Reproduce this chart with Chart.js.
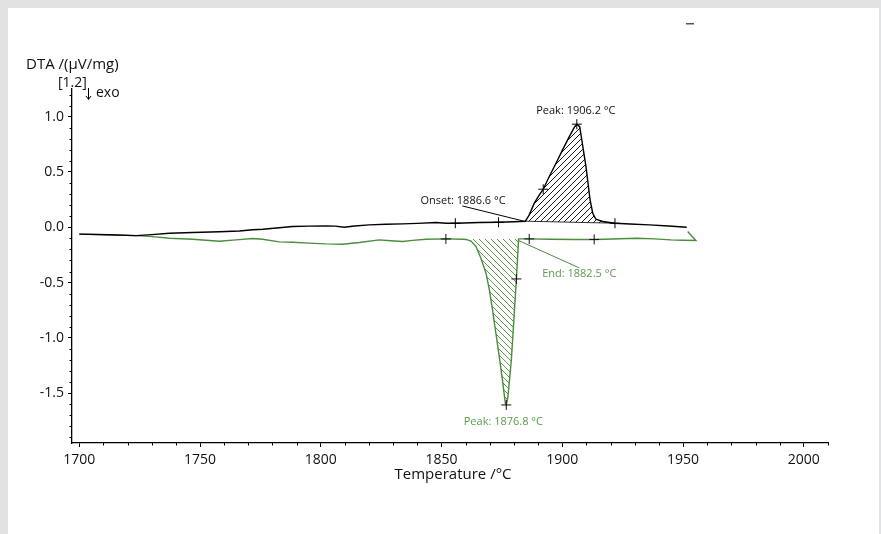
<!DOCTYPE html>
<html><head><meta charset="utf-8">
<script src="https://cdn.jsdelivr.net/npm/chart.js@4"></script>
<style>html,body{margin:0;padding:0;background:#e1e2e3;}#wrap{width:881px;height:534px;position:relative;}</style>
</head><body><div id="wrap"><canvas id="c" width="881" height="534"></canvas></div>
<script>
// ---- data ----
const blackTemp = [1700,1712,1723.5,1730,1737.3,1747,1758,1766.3,1771.8,1776,1782.8,1788.3,1795,1802.2,1806,1809.7,1814,1820,1827,1833.9,1840,1847.7,1851.9,1856,1865.6,1873.6,1880,1884.7,1886.3,1888.4,1890.5,1892.1,1894.6,1897.4,1900.1,1902.9,1905.0,1906.0,1907.2,1909.8,1911.5,1912.6,1913.9,1916.7,1921.8,1928,1936,1944,1951.5];
const blackDta  = [-0.062,-0.068,-0.075,-0.066,-0.054,-0.047,-0.04,-0.033,-0.022,-0.018,-0.004,0.007,0.01,0.013,0.01,0.0,0.012,0.022,0.027,0.031,0.035,0.043,0.037,0.037,0.043,0.046,0.05,0.055,0.112,0.218,0.293,0.344,0.459,0.579,0.70,0.82,0.905,0.932,0.91,0.549,0.248,0.127,0.073,0.052,0.037,0.03,0.022,0.012,0.0];
const greenTemp = [1700,1712,1723.5,1730.4,1737.3,1747,1758,1764.9,1771.8,1775.9,1782.8,1788.3,1795,1802.2,1809,1815.9,1824.2,1829,1833.9,1838,1843.6,1851.8,1858.7,1860.1,1862.2,1864.3,1866.3,1868.4,1869.8,1871.1,1872.5,1873.9,1875.3,1876.4,1876.8,1877.5,1878.9,1880.2,1881.0,1881.9,1886.3,1895,1905,1913.2,1917.4,1924,1931.1,1938,1944.9,1950,1955.3,1951.9];
const greenDta  = [-0.062,-0.068,-0.075,-0.084,-0.099,-0.108,-0.126,-0.114,-0.102,-0.108,-0.132,-0.135,-0.143,-0.15,-0.153,-0.138,-0.114,-0.122,-0.129,-0.118,-0.108,-0.105,-0.108,-0.11,-0.125,-0.175,-0.28,-0.415,-0.566,-0.747,-0.958,-1.17,-1.395,-1.59,-1.606,-1.53,-1.2,-0.747,-0.467,-0.105,-0.105,-0.108,-0.11,-0.11,-0.108,-0.104,-0.099,-0.105,-0.114,-0.117,-0.12,-0.039];
// integration baselines
const blackBaseTemp = [1884.7, 1921.8];
const blackBaseDta  = [0.055, 0.037];
const greenPeakFrom = 1860.1, greenPeakTo = 1881.9;
const greenBaseDta = -0.105;
// evaluation markers
const blackMarkTemp = [1855.7, 1873.6, 1892.1, 1906.0, 1921.8];
const blackMarkDta  = [0.037, 0.046, 0.344, 0.932, 0.037];
const greenMarkTemp = [1851.8, 1886.3, 1913.2, 1881.0, 1876.8];
const greenMarkDta  = [-0.105, -0.105, -0.11, -0.467, -1.606];
// leader lines
const onsetLeaderTemp = [1858.6, 1884.7];
const onsetLeaderDta  = [0.193, 0.052];
const endLeaderTemp = [1881.9, 1907.0];
const endLeaderDta  = [-0.12, -0.367];
// annotation labels
const labelTexts = ['Peak: 1906.2 °C', 'Onset: 1886.6 °C', 'End: 1882.5 °C', 'Peak: 1876.8 °C'];
const labelTemp  = [1905.6, 1858.9, 1907.0, 1875.6];
const labelDta   = [1.055, 0.241, -0.421, -1.76];
const labelIsGreen = [false, false, true, true];
// ticks
const xTickValues = [1700, 1750, 1800, 1850, 1900, 1950, 2000];
const yTickValues = [-1.5, -1.0, -0.5, 0.0, 0.5, 1.0];

const GREEN = '#4b8c3d';
const GREEN_TEXT = '#5b9a4d';
const FONT = "'Open Sans', 'DejaVu Sans', sans-serif";

const pts = (xs, ys) => xs.map((x, i) => ({x, y: ys[i]}));

function hatch(color, dir) {
  const s = 6, c = document.createElement('canvas');
  c.width = s; c.height = s;
  const g = c.getContext('2d');
  g.strokeStyle = color; g.lineWidth = 0.9;
  g.beginPath();
  if (dir === '/') {
    g.moveTo(0, s); g.lineTo(s, 0);
    g.moveTo(-1, 1); g.lineTo(1, -1);
    g.moveTo(s - 1, s + 1); g.lineTo(s + 1, s - 1);
  } else {
    g.moveTo(0, 0); g.lineTo(s, s);
    g.moveTo(-1, s - 1); g.lineTo(1, s + 1);
    g.moveTo(s - 1, -1); g.lineTo(s + 1, 1);
  }
  g.stroke();
  return g.createPattern(c, 'repeat');
}

const blackPts = pts(blackTemp, blackDta);
const greenPts = pts(greenTemp, greenDta);
const blackPeakPts = blackPts.filter(p => p.x >= blackBaseTemp[0] && p.x <= blackBaseTemp[1]);
const greenPeakPts = greenPts.filter((p, i) => i < greenPts.length - 2 && p.x >= greenPeakFrom && p.x <= greenPeakTo);

const bgPlugin = {
  id: 'bg',
  beforeDraw(chart) {
    const ctx = chart.ctx;
    ctx.save();
    ctx.fillStyle = '#e1e2e3';
    ctx.fillRect(0, 0, chart.width, chart.height);
    ctx.fillStyle = '#ffffff';
    ctx.fillRect(8, 8, 871, 526);
    ctx.restore();
  }
};

const decoPlugin = {
  id: 'deco',
  afterDraw(chart) {
    const ctx = chart.ctx, xs = chart.scales.x, ys = chart.scales.y;
    const a = chart.chartArea;
    ctx.save();
    ctx.strokeStyle = '#000'; ctx.lineWidth = 1;
    // minor ticks x
    ctx.beginPath();
    for (let t = 1700; t <= 2010; t += 10) {
      if (t % 50 === 0) continue;
      const px = Math.round(xs.getPixelForValue(t)) + 0.5;
      ctx.moveTo(px, a.bottom); ctx.lineTo(px, a.bottom + 2.5);
    }
    // minor ticks y
    for (let k = -19; k <= 12; k++) {
      if (k % 5 === 0) continue;
      const py = Math.round(ys.getPixelForValue(k / 10)) + 0.5;
      ctx.moveTo(a.left, py); ctx.lineTo(a.left - 2.5, py);
    }
    ctx.stroke();
    // axis titles
    ctx.fillStyle = '#111';
    ctx.font = '15px ' + FONT;
    ctx.textBaseline = 'middle';
    ctx.textAlign = 'left';
    ctx.fillText('DTA /(µV/mg)', 26, 65);
    ctx.font = '14px ' + FONT;
    ctx.fillText('[1.2]', 58, 83);
    ctx.fillText('exo', 96, 93);
    // arrow
    ctx.beginPath();
    ctx.moveTo(88.5, 88); ctx.lineTo(88.5, 99);
    ctx.moveTo(86, 96); ctx.lineTo(88.5, 99.5); ctx.lineTo(91, 96);
    ctx.stroke();
    ctx.textAlign = 'center';
    ctx.font = '15px ' + FONT;
    ctx.fillText('Temperature /°C', (a.left + a.right) / 2 + 3, 475);
    // small dash at top
    ctx.fillStyle = '#555';
    ctx.fillRect(686, 23, 8, 1.5);
    // annotation labels
    ctx.font = '11px ' + FONT;
    ctx.textAlign = 'center';
    labelTexts.forEach((t, i) => {
      ctx.fillStyle = labelIsGreen[i] ? GREEN_TEXT : '#111';
      ctx.fillText(t, xs.getPixelForValue(labelTemp[i]), ys.getPixelForValue(labelDta[i]));
    });
    ctx.restore();
  }
};

new Chart(document.getElementById('c'), {
  type: 'line',
  data: {
    datasets: [
      {data: pts(blackMarkTemp, blackMarkDta), showLine: false, pointStyle: 'cross', pointRadius: 5, borderColor: '#000', borderWidth: 1},
      {data: pts(greenMarkTemp, greenMarkDta), showLine: false, pointStyle: 'cross', pointRadius: 5, borderColor: '#111', borderWidth: 1},
      {data: blackPts, borderColor: '#000', borderWidth: 1.4, pointRadius: 0, tension: 0},
      {data: greenPts, borderColor: GREEN, borderWidth: 1.4, pointRadius: 0, tension: 0},
      {data: pts(onsetLeaderTemp, onsetLeaderDta), borderColor: '#000', borderWidth: 1, pointRadius: 0},
      {data: pts(endLeaderTemp, endLeaderDta), borderColor: GREEN, borderWidth: 1, pointRadius: 0},
      {data: blackPeakPts, borderWidth: 0, borderColor: 'rgba(0,0,0,0)', pointRadius: 0, fill: {target: 7}, backgroundColor: hatch('#000', '/')},
      {data: pts(blackBaseTemp, blackBaseDta), borderColor: '#000', borderWidth: 0.8, pointRadius: 0},
      {data: greenPeakPts, borderWidth: 0, borderColor: 'rgba(0,0,0,0)', pointRadius: 0, fill: {value: greenBaseDta}, backgroundColor: hatch(GREEN, '\\')}
    ]
  },
  options: {
    responsive: false,
    animation: false,
    devicePixelRatio: 1,
    layout: {padding: {top: 89, right: 53, left: 0, bottom: 0}},
    plugins: {legend: {display: false}, tooltip: {enabled: false}},
    scales: {
      x: {
        type: 'linear', min: 1697, max: 2010,
        afterFit(s) { s.height = 91; },
        afterBuildTicks(s) { s.ticks = xTickValues.map(v => ({value: v})); },
        grid: {display: true, drawOnChartArea: false, drawTicks: true, tickLength: 4, color: '#000', lineWidth: 1},
        border: {display: true, color: '#000', width: 1.3},
        ticks: {color: '#111', font: {family: FONT, size: 14}, padding: 5, maxRotation: 0, callback: v => String(v)}
      },
      y: {
        type: 'linear', min: -1.95, max: 1.25,
        afterFit(s) { s.width = 72; },
        afterBuildTicks(s) { s.ticks = yTickValues.map(v => ({value: v})); },
        grid: {display: true, drawOnChartArea: false, drawTicks: true, tickLength: 4, color: '#000', lineWidth: 1},
        border: {display: true, color: '#000', width: 1.3},
        ticks: {color: '#111', font: {family: FONT, size: 14}, padding: 4, callback: v => Number(v).toFixed(1)}
      }
    }
  },
  plugins: [bgPlugin, decoPlugin]
});
</script></body></html>
